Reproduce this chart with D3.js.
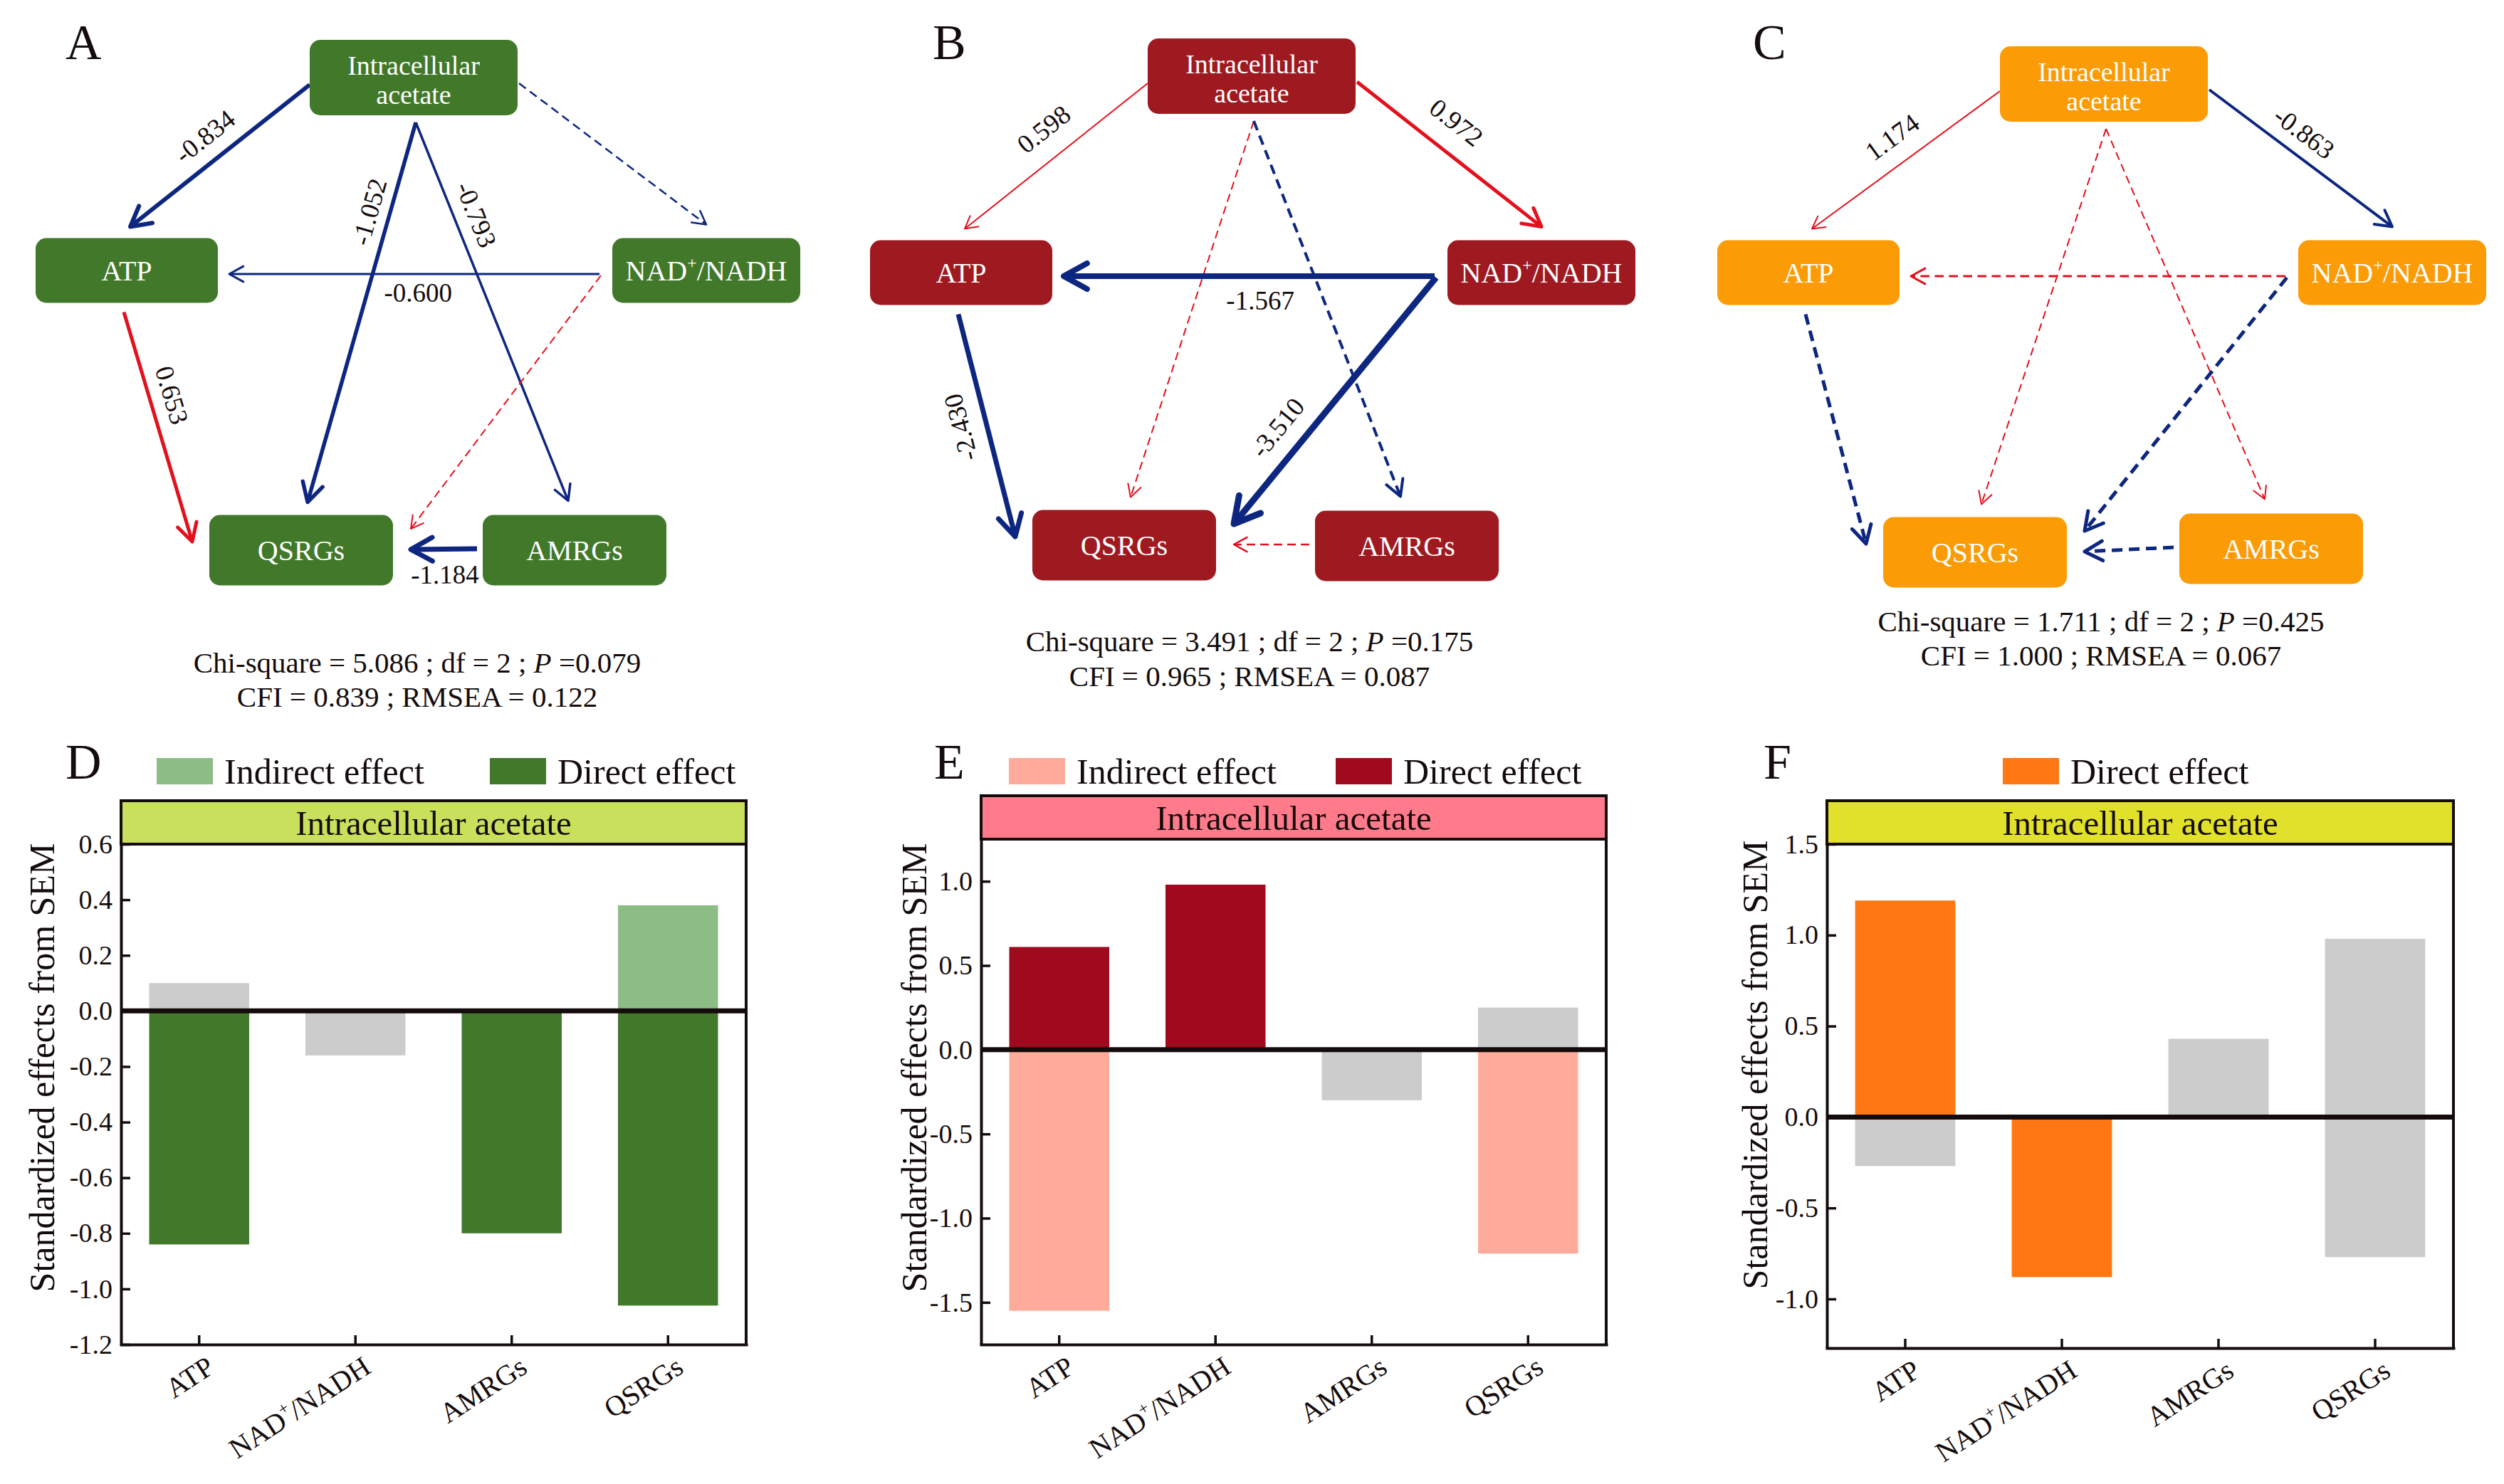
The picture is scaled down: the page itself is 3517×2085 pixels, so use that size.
<!DOCTYPE html>
<html>
<head>
<meta charset="utf-8">
<script src="https://cdn.jsdelivr.net/npm/d3@7"></script>
<style>
  body { margin: 0; background: #fff; }
  text { font-family: "Liberation Serif", "Times New Roman", serif; white-space: pre; }
</style>
</head>
<body>
<div id="chart"></div>
<script>
// ---------- data: SEM path models ----------
var nodeIds = ["acetate", "ATP", "NAD", "QSRGs", "AMRGs"];
var nodeText = {acetate: ["Intracellular", "acetate"], ATP: ["ATP"], NAD: ["NAD+/NADH"], QSRGs: ["QSRGs"], AMRGs: ["AMRGs"]};
var edgeFrom = ["acetate", "acetate", "acetate", "acetate", "NAD", "NAD", "ATP", "AMRGs"];
var edgeTo   = ["ATP", "NAD", "QSRGs", "AMRGs", "ATP", "QSRGs", "QSRGs", "QSRGs"];
// standardized path coefficients (null = not significant, drawn dashed)
var coefA = [-0.834, null, -1.052, -0.793, -0.600, null, 0.653, -1.184];
var signA = [-1, -1, -1, -1, -1, 1, 1, -1];
var coefB = [0.598, 0.972, null, null, -1.567, -3.510, -2.430, null];
var signB = [1, 1, 1, -1, -1, -1, -1, 1];
var coefC = [1.174, -0.863, null, null, null, null, null, null];
var signC = [1, -1, 1, 1, 1, -1, -1, -1];

var fitChi = [5.086, 3.491, 1.711];
var fitDf = [2, 2, 2];
var fitP = [0.079, 0.175, 0.425];
var fitCFI = [0.839, 0.965, 1.000];
var fitRMSEA = [0.122, 0.087, 0.067];

// ---------- data: standardized effects ----------
var categories = ["ATP", "NAD+/NADH", "AMRGs", "QSRGs"];
var directD = [-0.84, null, -0.80, -1.06];
var indirectD = [null, null, null, 0.38];
var otherD = [[0.10], [-0.16], [], []];
var directE = [0.61, 0.98, null, null];
var indirectE = [-1.55, null, null, -1.21];
var otherE = [[], [], [-0.30], [0.25]];
var directF = [1.19, -0.88, null, null];
var indirectF = [null, null, null, null];
var otherF = [[-0.27], [], [0.43], [0.98, -0.77]];
var ticksD = [-1.2, -1.0, -0.8, -0.6, -0.4, -0.2, 0.0, 0.2, 0.4, 0.6];
var ticksE = [-1.5, -1.0, -0.5, 0.0, 0.5, 1.0];
var ticksF = [-1.0, -0.5, 0.0, 0.5, 1.0, 1.5];

// ---------- layout / style ----------
var ink = "#140c0c", red = "#e3101d", blue = "#0d2680", grey = "#cccccc";
var nodeSize = {acetate: [292, 106], ATP: [256, 91], NAD: [264, 91], QSRGs: [258, 99], AMRGs: [258, 99]};
// ports: [side, offset along side, gap]
var routes = [
  {s: ["L", 10, 0], t: ["T", 5, 16]},
  {s: ["R", 8, 2], t: ["T", 0, 19]},
  {s: ["B", 3, 10], t: ["T", 9, 18]},
  {s: ["B", 3, 10], t: ["T", -9, 20]},
  {s: ["L", 5, 18], t: ["R", 5, 16]},
  {s: ["L", 7, 16], t: ["R", -30, 25]},
  {s: ["B", -4, 13], t: ["L", -12, 24]},
  {s: ["L", -2, 8], t: ["R", -1, 25]}
];

var semPanels = [
  {letter: "A", lx: 92, fill: "#41782a", coef: coefA, sign: signA, widths: [6, 2.5, 5.5, 3.5, 3, 2, 5, 7],
   nodes: {acetate: [581, 109], ATP: [178, 380], NAD: [992, 380], QSRGs: [423, 773], AMRGs: [807, 773]},
   labels: {0: [0.5, 34], 2: [0.25, 28], 3: [0.265, -30], 4: [0.49, -27], 6: [0.39, -31], 7: [0.49, -36]},
   fitX: 586, fitY: [945, 993]},
  {letter: "B", lx: 1310, fill: "#9e1a20", coef: coefB, sign: signB, widths: [2, 5, 2, 4, 8, 9, 7, 2.5],
   nodes: {acetate: [1758, 107], ATP: [1350, 383], NAD: [2165, 383], QSRGs: [1579, 766], AMRGs: [1976, 767]},
   labels: {0: [0.47, 40], 1: [0.44, -41], 4: [0.47, -35], 5: [0.68, 38], 6: [0.48, 36, true]},
   fitX: 1755, fitY: [915, 964]},
  {letter: "C", lx: 2462, fill: "#fb9b05", coef: coefC, sign: signC, widths: [2, 4, 2, 2, 3, 5, 5, 5],
   nodes: {acetate: [2955, 118], ATP: [2540, 383], NAD: [3360, 383], QSRGs: [2774, 776], AMRGs: [3190, 771]},
   labels: {0: [0.49, 37], 1: [0.445, -31]},
   fitX: 2951, fitY: [887, 935]}
];

var barPanels = [
  {letter: "D", lx: 92, x0: 170, x1: 1048, headTop: 1125, top: 1186, bottom: 1889, domain: [-1.2, 0.6], ticks: ticksD,
   head: "#c8e05c", direct: directD, indirect: indirectD, other: otherD, dirCol: "#41782a", indCol: "#8bbd84",
   legend: [["Indirect effect", "#8bbd84", 220], ["Direct effect", "#41782a", 688]], ylx: 76, yly: 1500},
  {letter: "E", lx: 1312, x0: 1378, x1: 2256, headTop: 1118, top: 1179, bottom: 1889, domain: [-1.75, 1.25], ticks: ticksE,
   head: "#ff7b8b", direct: directE, indirect: indirectE, other: otherE, dirCol: "#a00a1e", indCol: "#ffab9b",
   legend: [["Indirect effect", "#ffab9b", 1417], ["Direct effect", "#a00a1e", 1876]], ylx: 1301, yly: 1500},
  {letter: "F", lx: 2477, x0: 2566, x1: 3446, headTop: 1125, top: 1186, bottom: 1894, domain: [-1.27, 1.5], ticks: ticksF,
   head: "#e1e02a", direct: directF, indirect: indirectF, other: otherF, dirCol: "#ff7811", indCol: "#ffab9b",
   legend: [["Direct effect", "#ff7811", 2813]], ylx: 2482, yly: 1496}
];

var svg = d3.select("#chart").append("svg")
  .attr("width", 3517).attr("height", 2085)
  .style("background", "#fff");

// text with a raised "+" (NAD+/NADH)
function supText(sel, str, size) {
  var parts = str.split("+");
  if (parts.length === 1) { sel.text(str); return; }
  sel.append("tspan").text(parts[0]);
  sel.append("tspan").attr("font-size", size * 0.6).attr("dy", -size * 0.42).text("+");
  sel.append("tspan").attr("dy", size * 0.42).text(parts[1]);
}

function anchor(p, id, spec) {
  var c = p.nodes[id], s = nodeSize[id], off = spec[1], gap = spec[2];
  if (spec[0] === "L") return [c[0] - s[0] / 2 - gap, c[1] + off];
  if (spec[0] === "R") return [c[0] + s[0] / 2 + gap, c[1] + off];
  if (spec[0] === "T") return [c[0] + off, c[1] - s[1] / 2 - gap];
  return [c[0] + off, c[1] + s[1] / 2 + gap];
}

function drawSem(p, k) {
  var g = svg.append("g");
  var line = d3.line();
  var lab = g.append("g");

  edgeFrom.forEach(function(from, i) {
    var a = anchor(p, from, routes[i].s), b = anchor(p, edgeTo[i], routes[i].t);
    var dx = b[0] - a[0], dy = b[1] - a[1], len = Math.hypot(dx, dy);
    var ux = dx / len, uy = dy / len, nx = -uy, ny = ux;
    var w = p.widths[i], col = p.sign[i] > 0 ? red : blue, sig = p.coef[i] !== null;

    g.append("path")
      .attr("d", line([a, [b[0] - ux * w * 0.6, b[1] - uy * w * 0.6]]))
      .attr("fill", "none").attr("stroke", col).attr("stroke-width", w)
      .attr("stroke-dasharray", sig ? null : (9 + 1.2 * w) + "," + (5 + 0.8 * w));

    var L = 12 + 2.6 * w, hw = 0.55 * L;
    g.append("path")
      .attr("d", line([[b[0] - L * ux + hw * nx, b[1] - L * uy + hw * ny], b,
                       [b[0] - L * ux - hw * nx, b[1] - L * uy - hw * ny]]))
      .attr("fill", "none").attr("stroke", col).attr("stroke-width", w)
      .attr("stroke-linecap", "round").attr("stroke-linejoin", "round");

    if (sig && p.labels[i]) {
      var t = p.labels[i][0], d = p.labels[i][1];
      var lx = a[0] + t * dx + d * nx, ly = a[1] + t * dy + d * ny;
      var ang = Math.atan2(dy, dx) * 180 / Math.PI;
      if (ang > 90) ang -= 180;
      if (ang < -90) ang += 180;
      if (p.labels[i][2]) ang -= 180;
      lab.append("text")
        .attr("transform", "translate(" + lx + "," + ly + ") rotate(" + ang + ")")
        .attr("text-anchor", "middle").attr("dy", "0.33em")
        .attr("font-size", 37).attr("fill", ink)
        .text(p.coef[i].toFixed(3));
    }
  });

  nodeIds.forEach(function(id) {
    var c = p.nodes[id], s = nodeSize[id];
    g.append("rect")
      .attr("x", c[0] - s[0] / 2).attr("y", c[1] - s[1] / 2)
      .attr("width", s[0]).attr("height", s[1])
      .attr("rx", 15).attr("fill", p.fill);
    var lines = nodeText[id];
    lines.forEach(function(str, j) {
      var y = lines.length === 1 ? c[1] + 14 : c[1] - 4 + j * 41;
      var tx = g.append("text").attr("x", c[0]).attr("y", y)
        .attr("text-anchor", "middle").attr("fill", "#fff")
        .attr("font-size", lines.length === 1 ? 40 : 38);
      supText(tx, str, 40);
    });
  });
  lab.raise();

  // fit statistics
  var t1 = g.append("text").attr("x", p.fitX).attr("y", p.fitY[0])
    .attr("text-anchor", "middle").attr("font-size", 41).attr("fill", ink);
  t1.append("tspan").text("Chi-square = " + fitChi[k].toFixed(3) + " ; df = " + fitDf[k] + " ; ");
  t1.append("tspan").attr("font-style", "italic").text("P");
  t1.append("tspan").text(" =" + fitP[k].toFixed(3));
  g.append("text").attr("x", p.fitX).attr("y", p.fitY[1])
    .attr("text-anchor", "middle").attr("font-size", 41).attr("fill", ink)
    .text("CFI = " + fitCFI[k].toFixed(3) + " ; RMSEA = " + fitRMSEA[k].toFixed(3));

  svg.append("text").attr("x", p.lx).attr("y", 83)
    .attr("font-size", 70).attr("fill", ink).text(p.letter);
}

function drawBars(p) {
  var g = svg.append("g");
  var x = d3.scaleBand().domain(categories).range([p.x0, p.x1]).paddingInner(0.36).paddingOuter(0.18);
  var y = d3.scaleLinear().domain(p.domain).range([p.bottom, p.top]);

  function bar(cat, v, col) {
    if (v === null || v === undefined) return;
    g.append("rect")
      .attr("x", x(cat)).attr("width", x.bandwidth())
      .attr("y", Math.min(y(0), y(v))).attr("height", Math.abs(y(v) - y(0)))
      .attr("fill", col);
  }
  categories.forEach(function(cat, i) {
    p.other[i].forEach(function(v) { bar(cat, v, grey); });
    bar(cat, p.indirect[i], p.indCol);
    bar(cat, p.direct[i], p.dirCol);
  });

  // zero line
  g.append("line").attr("x1", p.x0).attr("x2", p.x1).attr("y1", y(0)).attr("y2", y(0))
    .attr("stroke", ink).attr("stroke-width", 7);

  // axes
  var ya = g.append("g").attr("transform", "translate(" + p.x0 + ",0)")
    .call(d3.axisLeft(y).tickValues(p.ticks).tickSize(-13).tickSizeOuter(0).tickPadding(12)
      .tickFormat(function(d) { return d.toFixed(1); }));
  ya.style("color", ink).attr("font-family", "Liberation Serif").attr("font-size", 38);
  ya.select(".domain").attr("stroke-width", 4);
  ya.selectAll(".tick line").attr("stroke-width", 3.5);

  var xa = g.append("g").attr("transform", "translate(0," + p.bottom + ")")
    .call(d3.axisBottom(x).tickSize(-13).tickSizeOuter(0).tickFormat(""));
  xa.style("color", ink);
  xa.select(".domain").attr("stroke-width", 4).attr("stroke-linecap", "square");
  xa.selectAll(".tick line").attr("stroke-width", 3.5);

  g.append("line").attr("x1", p.x1).attr("x2", p.x1).attr("y1", p.top).attr("y2", p.bottom)
    .attr("stroke", ink).attr("stroke-width", 4).attr("stroke-linecap", "square");

  categories.forEach(function(cat) {
    var cx = x(cat) + x.bandwidth() / 2;
    var tx = g.append("text")
      .attr("transform", "translate(" + (cx + 24) + "," + (p.bottom + 38) + ") rotate(-33)")
      .attr("text-anchor", "end").attr("font-size", 40).attr("fill", ink);
    supText(tx, cat, 40);
  });

  // header strip
  g.append("rect").attr("x", p.x0).attr("y", p.headTop)
    .attr("width", p.x1 - p.x0).attr("height", p.top - p.headTop)
    .attr("fill", p.head).attr("stroke", ink).attr("stroke-width", 4);
  g.append("text").attr("x", (p.x0 + p.x1) / 2).attr("y", (p.headTop + p.top) / 2 + 17)
    .attr("text-anchor", "middle").attr("font-size", 49).attr("fill", ink)
    .text("Intracellular acetate");

  // y label
  g.append("text")
    .attr("transform", "translate(" + p.ylx + "," + p.yly + ") rotate(-90)")
    .attr("text-anchor", "middle").attr("font-size", 50).attr("fill", ink)
    .text("Standardized effects from SEM");

  // legend
  p.legend.forEach(function(it) {
    g.append("rect").attr("x", it[2]).attr("y", 1065).attr("width", 79).attr("height", 37).attr("fill", it[1]);
    g.append("text").attr("x", it[2] + 95).attr("y", 1101)
      .attr("font-size", 50).attr("fill", ink).text(it[0]);
  });

  svg.append("text").attr("x", p.lx).attr("y", 1094)
    .attr("font-size", 70).attr("fill", ink).text(p.letter);
}

semPanels.forEach(drawSem);
barPanels.forEach(drawBars);
</script>
</body>
</html>
